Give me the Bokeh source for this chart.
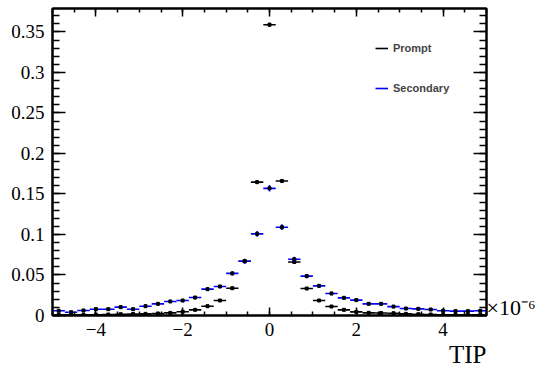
import numpy as np
from bokeh.plotting import figure
from bokeh.models import (Range1d, LinearAxis, SingleIntervalTicker, FixedTicker, NumeralTickFormatter,
                          Title, Legend, LegendItem, ColumnDataSource)
from bokeh.embed import file_html
from bokeh.resources import INLINE

# ---- data (x in units of 1e-6) ----
x_min, x_max, n_bins = -5.0, 5.0, 35
prompt = [0.0008, 0.0008, 0.0010, 0.0010, 0.0012, 0.0016, 0.0018, 0.0020, 0.0025, 0.0032,
          0.0047, 0.0070, 0.0115, 0.0185, 0.0337, 0.0670, 0.1646, 0.3590, 0.1660, 0.0660,
          0.0333, 0.0185, 0.0111, 0.0070, 0.0045, 0.0033, 0.0030, 0.0028, 0.0020, 0.0016,
          0.0012, 0.0010, 0.0009, 0.0008, 0.0008]
prompt_err = [0.0008, 0.0008, 0.0008, 0.0008, 0.0008, 0.0008, 0.0008, 0.0008, 0.0008, 0.0008,
              0.0010, 0.0010, 0.0010, 0.0012, 0.0012, 0.0015, 0.0020, 0.0025, 0.0020, 0.0015,
              0.0012, 0.0012, 0.0010, 0.0010, 0.0010, 0.0008, 0.0008, 0.0008, 0.0008, 0.0008,
              0.0008, 0.0008, 0.0008, 0.0008, 0.0008]
secondary = [0.0058, 0.0041, 0.0062, 0.0078, 0.0078, 0.0103, 0.0078, 0.0115, 0.0144, 0.0173,
             0.0185, 0.0222, 0.0325, 0.0358, 0.0520, 0.0670, 0.1008, 0.1570, 0.1090, 0.0695,
             0.0486, 0.0366, 0.0272, 0.0218, 0.0190, 0.0144, 0.0144, 0.0110, 0.0086, 0.0082,
             0.0074, 0.0058, 0.0054, 0.0054, 0.0058]
secondary_err = [0.0015, 0.0015, 0.0015, 0.0018, 0.0018, 0.0018, 0.0018, 0.0018, 0.0018, 0.0020,
                 0.0020, 0.0020, 0.0022, 0.0022, 0.0025, 0.0030, 0.0035, 0.0040, 0.0035, 0.0030,
                 0.0025, 0.0022, 0.0022, 0.0020, 0.0020, 0.0018, 0.0018, 0.0018, 0.0018, 0.0015,
                 0.0015, 0.0015, 0.0015, 0.0015, 0.0015]
y_max = 0.379
x_tick_overrides = {-4: "\u22124", -2: "\u22122", 0: "0", 2: "2", 4: "4"}
x_title = "TIP"
x_multiplier = "\u00d710\u207b\u2076"

edges = np.linspace(x_min, x_max, n_bins + 1)
centers = 0.5 * (edges[:-1] + edges[1:])

p = figure(width=538, height=368, x_range=Range1d(x_min, x_max), y_range=Range1d(0, y_max),
           output_backend="svg", toolbar_location=None,
           min_border_left=52, min_border_right=51, min_border_top=8, min_border_bottom=53)
p.background_fill_color = "white"
p.border_fill_color = "white"
p.xgrid.visible = False
p.ygrid.visible = False
p.outline_line_color = "black"
p.outline_line_width = 2

serif = "Liberation Serif"

def hide_labels(ax):
    ax.major_label_text_color = None
    ax.major_label_text_font_size = "1px"
    ax.major_label_standoff = 0

def style_x(ax, labels=True):
    ax.ticker = SingleIntervalTicker(interval=2, num_minor_ticks=4)
    ax.major_tick_in = 8
    ax.major_tick_out = 0
    ax.minor_tick_in = 4
    ax.minor_tick_out = 0
    ax.axis_line_width = 2
    ax.major_tick_line_width = 1.5
    ax.minor_tick_line_width = 1.5
    if labels:
        ax.major_label_overrides = x_tick_overrides
        ax.major_label_text_font = serif
        ax.major_label_text_font_size = "19px"
        ax.major_label_text_color = "black"
        ax.major_label_standoff = 7
    else:
        hide_labels(ax)

def style_y(ax, labels=True):
    ax.ticker = SingleIntervalTicker(interval=0.05, num_minor_ticks=5)
    ax.formatter = NumeralTickFormatter(format="0.[00]")
    ax.major_tick_in = 13
    ax.major_tick_out = 0
    ax.minor_tick_in = 7
    ax.minor_tick_out = 0
    ax.axis_line_width = 2
    ax.major_tick_line_width = 1.5
    ax.minor_tick_line_width = 1.5
    if labels:
        ax.major_label_text_font = serif
        ax.major_label_text_font_size = "19px"
        ax.major_label_text_color = "black"
        ax.major_label_standoff = 8
    else:
        hide_labels(ax)

style_x(p.xaxis[0])
style_y(p.yaxis[0])
top_ax = LinearAxis()
style_x(top_ax, labels=False)
p.add_layout(top_ax, "above")
right_ax = LinearAxis()
style_y(right_ax, labels=False)
p.add_layout(right_ax, "right")

# multiplier label next to the end of the x axis
p.extra_y_ranges = {"mult": Range1d(-0.0095, y_max - 0.0095)}
mult_ax = LinearAxis(y_range_name="mult", ticker=FixedTicker(ticks=[0], minor_ticks=[]))
mult_ax.major_label_overrides = {0: x_multiplier}
mult_ax.axis_line_color = None
mult_ax.major_tick_line_color = None
mult_ax.minor_tick_line_color = None
mult_ax.major_tick_in = 0
mult_ax.major_tick_out = 0
mult_ax.major_label_standoff = 0
mult_ax.major_label_text_font = serif
mult_ax.major_label_text_font_size = "22px"
mult_ax.major_label_text_color = "black"
p.add_layout(mult_ax, "right")

p.add_layout(Title(text=x_title, align="right", text_font=serif, text_font_size="25px",
                   text_font_style="normal", text_color="black", standoff=0,
                   text_line_height=1.0), "below")

def draw(vals, errs, color):
    src = ColumnDataSource(dict(
        x=centers, x0=edges[:-1], x1=edges[1:], y=vals,
        ylo=[v - e for v, e in zip(vals, errs)], yhi=[v + e for v, e in zip(vals, errs)]))
    h = p.segment(x0="x0", y0="y", x1="x1", y1="y", source=src, line_color=color, line_width=1.6)
    p.segment(x0="x", y0="ylo", x1="x", y1="yhi", source=src, line_color=color, line_width=1.6)
    p.scatter(x="x", y="y", source=src, marker="square", size=3, color="black")
    return h

r_prompt = draw(prompt, prompt_err, "black")
r_sec = draw(secondary, secondary_err, "#0000ff")

legend = Legend(items=[LegendItem(label="Prompt", renderers=[r_prompt]),
                       LegendItem(label="Secondary", renderers=[r_sec])],
                location=(323, 217), padding=0, margin=0, spacing=20,
                glyph_width=13, glyph_height=20, label_height=20, label_standoff=5,
                border_line_color=None, background_fill_alpha=0,
                label_text_font="Liberation Sans", label_text_font_style="bold",
                label_text_font_size="11px")
p.add_layout(legend, "center")

open("out.html", "w").write(file_html(p, INLINE))
